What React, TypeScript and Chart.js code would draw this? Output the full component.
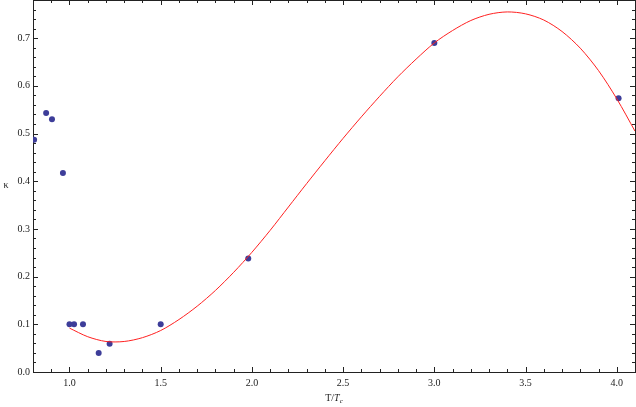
import React, { useEffect, useRef } from "react";
import { Chart, registerables } from "chart.js";
Chart.register(...registerables);

// Measured points (T/Tc, kappa)
const tempRatio = [0.806, 0.872, 0.904, 0.964, 1.0, 1.025, 1.074, 1.16, 1.22, 1.5, 1.98, 3.0, 4.01];
const kappa = [0.487, 0.543, 0.53, 0.417, 0.1, 0.1, 0.1, 0.04, 0.059, 0.1, 0.238, 0.69, 0.574];

// Fitted curve
const fitX = [1.0, 1.1, 1.2, 1.3, 1.4, 1.5, 1.6, 1.7, 1.8, 1.9, 2.0, 2.1, 2.2, 2.3, 2.4, 2.5, 2.6, 2.7, 2.8, 2.9, 3.0, 3.1, 3.2, 3.3, 3.4, 3.5, 3.6, 3.7, 3.8, 3.9, 4.0, 4.1];
const fitY = [0.092, 0.074, 0.064, 0.064, 0.072, 0.087, 0.11, 0.138, 0.171, 0.209, 0.251, 0.297, 0.346, 0.395, 0.443, 0.49, 0.535, 0.578, 0.619, 0.656, 0.69, 0.716, 0.737, 0.75, 0.755, 0.751, 0.738, 0.714, 0.679, 0.632, 0.573, 0.505];

const xTickLabels = [1.0, 1.5, 2.0, 2.5, 3.0, 3.5, 4.0];
const yTickLabels = [0.0, 0.1, 0.2, 0.3, 0.4, 0.5, 0.6, 0.7];

const X_MIN = 0.8, X_MAX = 4.1, Y_MIN = 0, Y_MAX = 0.78;
const FONT = "'Liberation Serif', serif";

const framePlugin = {
  id: "frame",
  beforeDatasetsDraw(chart: any) {
    const { ctx, chartArea: a, scales } = chart;
    const xs = scales.x, ys = scales.y;
    ctx.save();
    ctx.strokeStyle = "#222";
    ctx.lineWidth = 1;
    ctx.strokeRect(a.left + 0.5, a.top + 0.5, a.right - a.left, a.bottom - a.top);
    ctx.beginPath();
    for (let i = Math.round(X_MIN * 10); i <= Math.round(X_MAX * 10); i++) {
      const v = i / 10;
      const major = i % 5 === 0;
      const len = major ? 5 : 3;
      const px = Math.round(xs.getPixelForValue(v)) + 0.5;
      ctx.moveTo(px, a.bottom);
      ctx.lineTo(px, a.bottom - len);
      ctx.moveTo(px, a.top);
      ctx.lineTo(px, a.top + len);
    }
    for (let i = 0; i <= Math.round(Y_MAX * 50); i++) {
      const v = i / 50;
      const major = i % 5 === 0;
      const len = major ? 5 : 3;
      const py = Math.round(ys.getPixelForValue(v)) + 0.5;
      ctx.moveTo(a.left, py);
      ctx.lineTo(a.left + len, py);
      ctx.moveTo(a.right, py);
      ctx.lineTo(a.right - len, py);
    }
    ctx.stroke();
    ctx.restore();
  },
  afterDraw(chart: any) {
    const { ctx, chartArea: a } = chart;
    ctx.save();
    ctx.fillStyle = "#222";
    ctx.textBaseline = "alphabetic";
    // x title: T/T_c
    const cx = (a.left + a.right) / 2;
    const y = 401;
    ctx.font = `10px ${FONT}`;
    const p1 = "T/";
    const w1 = ctx.measureText(p1).width;
    ctx.font = `italic 10px ${FONT}`;
    const p2 = "T";
    const w2 = ctx.measureText(p2).width;
    ctx.font = `italic 7px ${FONT}`;
    const p3 = "c";
    const w3 = ctx.measureText(p3).width;
    const x0 = cx - (w1 + w2 + w3) / 2;
    ctx.font = `10px ${FONT}`;
    ctx.fillText(p1, x0, y);
    ctx.font = `italic 10px ${FONT}`;
    ctx.fillText(p2, x0 + w1, y);
    ctx.font = `italic 7px ${FONT}`;
    ctx.fillText(p3, x0 + w1 + w2, y + 2);
    // y title: kappa
    ctx.font = `10px ${FONT}`;
    ctx.textAlign = "center";
    ctx.fillText("κ", 6, (a.top + a.bottom) / 2 + 2);
    ctx.restore();
  },
};

const zeroPad = (s: any) => {
  s.paddingTop = 0;
  s.paddingBottom = 0;
  s.paddingLeft = 0;
  s.paddingRight = 0;
};

export default function App() {
  const ref = useRef<HTMLCanvasElement>(null);
  useEffect(() => {
    document.body.style.margin = "0";
    const chart = new Chart(ref.current as HTMLCanvasElement, {
      type: "scatter",
      data: {
        datasets: [
          {
            type: "line",
            data: fitX.map((x, i) => ({ x, y: fitY[i] })),
            borderColor: "#ff2020",
            borderWidth: 1,
            pointRadius: 0,
            showLine: true,
            fill: false,
            tension: 0.3,
          } as any,
          {
            type: "scatter",
            data: tempRatio.map((x, i) => ({ x, y: kappa[i] })),
            backgroundColor: "#3d3d99",
            borderWidth: 0,
            pointRadius: 3,
          },
        ],
      },
      options: {
        responsive: false,
        animation: false,
        layout: { autoPadding: false, padding: { top: 0, right: 1, left: 0, bottom: 0 } },
        plugins: { legend: { display: false }, tooltip: { enabled: false } },
        scales: {
          x: {
            type: "linear",
            min: X_MIN,
            max: X_MAX,
            grid: { display: false, drawTicks: false },
            border: { display: false },
            afterBuildTicks: (s: any) => {
              s.ticks = xTickLabels.map((v) => ({ value: v }));
            },
            afterFit: (s: any) => {
              s.height = 35;
              zeroPad(s);
            },
            ticks: {
              padding: 5,
              color: "#222",
              font: { family: FONT, size: 10 },
              maxRotation: 0,
              autoSkip: false,
              callback: (v: any) => Number(v).toFixed(1),
            },
          },
          y: {
            type: "linear",
            min: Y_MIN,
            max: Y_MAX,
            grid: { display: false, drawTicks: false },
            border: { display: false },
            afterBuildTicks: (s: any) => {
              s.ticks = yTickLabels.map((v) => ({ value: v }));
            },
            afterFit: (s: any) => {
              s.width = 33;
              zeroPad(s);
            },
            ticks: {
              padding: 3,
              color: "#222",
              font: { family: FONT, size: 10 },
              autoSkip: false,
              callback: (v: any) => Number(v).toFixed(1),
            },
          },
        },
      },
      plugins: [framePlugin],
    });
    return () => chart.destroy();
  }, []);
  return <canvas ref={ref} width={636} height={407} style={{ display: "block" }} />;
}
